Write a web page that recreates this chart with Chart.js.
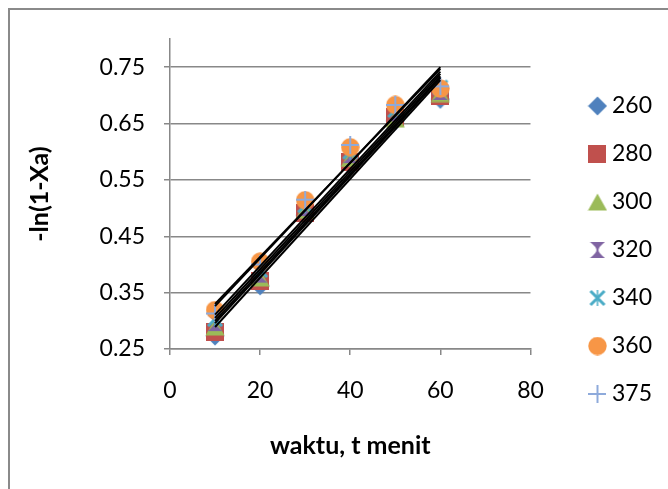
<!DOCTYPE html>
<html>
<head>
<meta charset="utf-8">
<script src="https://cdn.jsdelivr.net/npm/chart.js@4.4.1/dist/chart.umd.min.js"></script>
<style>
  html, body { margin: 0; padding: 0; background: #fff; }
  canvas { display: block; }
</style>
</head>
<body>
<canvas id="c" width="668" height="489"></canvas>
<script>
// ---- data ----
const seriesNames = ['260', '280', '300', '320', '340', '360', '375'];
const xValues = [10, 20, 30, 40, 50, 60];
const s260 = [0.273, 0.362, 0.487, 0.576, 0.655, 0.693];
const s280 = [0.281, 0.370, 0.492, 0.582, 0.662, 0.698];
const s300 = [0.289, 0.376, 0.496, 0.588, 0.658, 0.703];
const s320 = [0.296, 0.382, 0.500, 0.594, 0.668, 0.706];
const s340 = [0.303, 0.390, 0.505, 0.600, 0.674, 0.714];
const s360 = [0.319, 0.405, 0.514, 0.608, 0.683, 0.712];
const s375 = [0.313, 0.400, 0.515, 0.612, 0.683, 0.716];
// linear trend lines (read as end points at x = 10 and x = 60)
const trendX = [10, 60];
const trendAt10 = [0.289, 0.296, 0.300, 0.305, 0.311, 0.330, 0.326];
const trendAt60 = [0.727, 0.731, 0.734, 0.738, 0.742, 0.747, 0.750];
// axes
const xTickValues = [0, 20, 40, 60, 80];
const yTickValues = [0.25, 0.35, 0.45, 0.55, 0.65, 0.75];
const yTickLabels = ['0.25', '0.35', '0.45', '0.55', '0.65', '0.75'];
const xTitle = 'waktu, t menit';
const yTitle = '-ln(1-Xa)';

const seriesValues = [s260, s280, s300, s320, s340, s360, s375];
const seriesColors = ['#4F81BD', '#C0504D', '#9BBB59', '#8064A2', '#4BACC6', '#F79646', '#8EAADB'];

// ---- marker images (Excel-like marker shapes) ----
function mk(w, h, draw) {
  const c = document.createElement('canvas');
  c.width = w; c.height = h;
  const g = c.getContext('2d');
  draw(g, w, h);
  return c;
}
const markers = [
  mk(20, 20, (g) => { g.fillStyle = seriesColors[0]; g.beginPath(); g.moveTo(10, 0.5); g.lineTo(19.5, 10); g.lineTo(10, 19.5); g.lineTo(0.5, 10); g.closePath(); g.fill(); }),
  mk(18, 18, (g) => { g.fillStyle = seriesColors[1]; g.fillRect(0, 0, 18, 18); }),
  mk(20, 18, (g) => { g.fillStyle = seriesColors[2]; g.beginPath(); g.moveTo(10, 0.5); g.lineTo(19.5, 17.5); g.lineTo(0.5, 17.5); g.closePath(); g.fill(); }),
  mk(16, 18, (g) => { g.fillStyle = seriesColors[3]; g.beginPath(); g.moveTo(0.5, 1); g.lineTo(15.5, 1); g.quadraticCurveTo(9, 6, 9, 9); g.quadraticCurveTo(9, 12, 15.5, 17); g.lineTo(0.5, 17); g.quadraticCurveTo(7, 12, 7, 9); g.quadraticCurveTo(7, 6, 0.5, 1); g.closePath(); g.fill(); }),
  mk(18, 18, (g) => { g.strokeStyle = seriesColors[4]; g.lineWidth = 3; g.beginPath(); g.moveTo(2, 2); g.lineTo(16, 16); g.moveTo(16, 2); g.lineTo(2, 16); g.stroke(); g.lineWidth = 1.5; g.beginPath(); g.moveTo(9, 1); g.lineTo(9, 17); g.stroke(); }),
  mk(19, 19, (g) => { g.fillStyle = seriesColors[5]; g.beginPath(); g.arc(9.5, 9.5, 9.2, 0, Math.PI * 2); g.fill(); }),
  mk(18, 18, (g) => { g.strokeStyle = seriesColors[6]; g.lineWidth = 2; g.beginPath(); g.moveTo(9, 0); g.lineTo(9, 18); g.moveTo(0, 9); g.lineTo(18, 9); g.stroke(); })
];

const datasets = [];
seriesNames.forEach((name, i) => {
  datasets.push({
    label: name,
    data: xValues.map((x, j) => ({ x: x, y: seriesValues[i][j] })),
    pointStyle: markers[i],
    backgroundColor: seriesColors[i],
    borderColor: seriesColors[i],
    showLine: false,
    order: 20 - i
  });
});
seriesNames.forEach((name, i) => {
  datasets.push({
    label: 'trend ' + name,
    data: [{ x: trendX[0], y: trendAt10[i] }, { x: trendX[1], y: trendAt60[i] }],
    showLine: true,
    borderColor: '#000000',
    borderWidth: 2,
    pointRadius: 0,
    pointHoverRadius: 0,
    order: 0
  });
});

const frame = {
  id: 'frame',
  beforeDraw(chart) {
    const ctx = chart.ctx;
    ctx.save();
    ctx.fillStyle = '#ffffff';
    ctx.fillRect(0, 0, chart.width, chart.height);
    ctx.strokeStyle = '#8a8a8a';
    ctx.lineWidth = 2;
    ctx.beginPath();
    ctx.moveTo(9, chart.height);
    ctx.lineTo(9, 9);
    ctx.lineTo(chart.width, 9);
    ctx.stroke();
    ctx.restore();
  }
};

const FONT = 'Lato';
new Chart(document.getElementById('c'), {
  type: 'scatter',
  data: { datasets: datasets },
  plugins: [frame],
  options: {
    responsive: false,
    animation: false,
    devicePixelRatio: 1,
    layout: { padding: { top: 39, left: 10, right: 6, bottom: 28 } },
    plugins: {
      tooltip: { enabled: false },
      legend: {
        position: 'right',
        labels: {
          usePointStyle: true,
          boxWidth: 6,
          boxHeight: 6,
          padding: 25,
          color: '#000',
          font: { family: FONT, size: 23 },
          filter: (item) => item.datasetIndex < seriesNames.length,
          sort: (a, b) => a.datasetIndex - b.datasetIndex
        }
      }
    },
    scales: {
      x: {
        type: 'linear',
        min: 0, max: 80,
        afterBuildTicks: (s) => { s.ticks = xTickValues.map(v => ({ value: v })); },
        afterFit: (s) => { s.height = 112; },
        ticks: { color: '#000', font: { family: FONT, size: 23 }, padding: 22 },
        grid: { drawOnChartArea: false, drawTicks: true, tickLength: 6, color: '#888', lineWidth: 1.5 },
        border: { color: '#888', width: 1.5 },
        title: { display: true, text: xTitle, color: '#000', font: { family: FONT, size: 25, weight: 'bold' }, padding: { top: 0, bottom: 0 } }
      },
      y: {
        type: 'linear',
        min: 0.25, max: 0.8,
        afterBuildTicks: (s) => { s.ticks = yTickValues.map(v => ({ value: v })); },
        afterFit: (s) => { s.width = 160; },
        ticks: { color: '#000', font: { family: FONT, size: 23 }, padding: 19, callback: (v, i) => yTickLabels[i] },
        grid: { drawOnChartArea: true, drawTicks: true, tickLength: 6, color: '#888', lineWidth: 1.5 },
        border: { color: '#888', width: 1.5 },
        title: { display: true, text: yTitle, color: '#000', font: { family: FONT, size: 25, weight: 'bold' }, padding: { top: 15, bottom: 0 } }
      },
      gap: {
        type: 'linear',
        position: 'right',
        display: true,
        afterFit: (s) => { s.width = 39; },
        ticks: { display: false },
        grid: { display: false },
        border: { display: false }
      }
    }
  }
});
</script>
</body>
</html>
